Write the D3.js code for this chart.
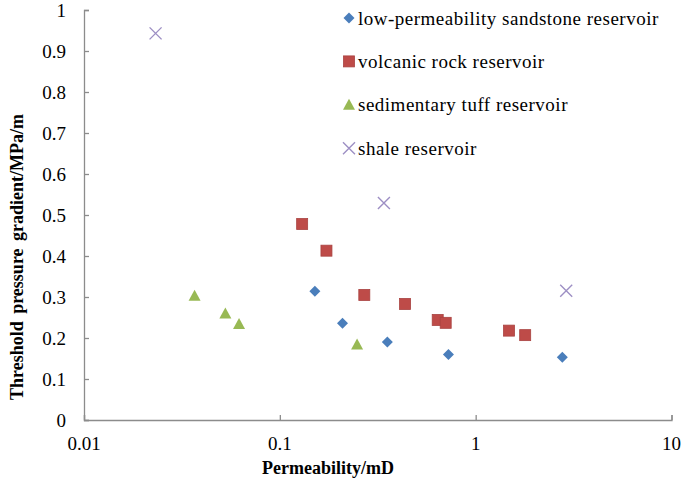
<!DOCTYPE html>
<html>
<head>
<meta charset="utf-8">
<script src="https://cdn.jsdelivr.net/npm/d3@7"></script>
<style>
  body { margin: 0; background: #fff; }
</style>
</head>
<body>
<div id="chart"></div>
<script>
var width = 685
var height = 487
var serif = "'Liberation Serif', 'Times New Roman', Times, serif"

// series: [permeability mD, threshold gradient MPa/m]
var sandstone = [[0.151, 0.314], [0.209, 0.236], [0.354, 0.190], [0.726, 0.160], [2.77, 0.153]]
var volcanic = [[0.130, 0.478], [0.173, 0.413], [0.270, 0.305], [0.436, 0.283], [0.640, 0.244], [0.703, 0.237], [1.48, 0.218], [1.79, 0.207]]
var tuff = [[0.0367, 0.303], [0.0527, 0.260], [0.0619, 0.234], [0.248, 0.184]]
var shale = [[0.0232, 0.943], [0.340, 0.529], [2.90, 0.315]]

var seriesNames = ['low-permeability sandstone reservoir', 'volcanic rock reservoir', 'sedimentary tuff reservoir', 'shale reservoir']
var xTicks = [0.01, 0.1, 1, 10]
var yTicks = [0, 0.1, 0.2, 0.3, 0.4, 0.5, 0.6, 0.7, 0.8, 0.9, 1]

var margin = { left: 84, right: 13.5, top: 10, bottom: 67 }

var series = [
  { name: seriesNames[0], data: sandstone, color: '#4a7ebb', symbol: 'diamond' },
  { name: seriesNames[1], data: volcanic, color: '#be4b48', symbol: 'square' },
  { name: seriesNames[2], data: tuff, color: '#98b954', symbol: 'triangle' },
  { name: seriesNames[3], data: shale, color: '#9d8fc4', symbol: 'cross' }
]

var xScale = d3.scaleLog()
  .domain([0.01, 10])
  .range([margin.left, width - margin.right])

var yScale = d3.scaleLinear()
  .domain([0, 1])
  .range([height - margin.bottom, margin.top])

var svg = d3.select('#chart')
  .append('svg')
  .attr('width', width)
  .attr('height', height)
  .style('font-family', serif)

// axes, ticks pointing inward
var xAxis = d3.axisTop(xScale)
  .tickValues(xTicks)
  .tickSize(5)
  .tickFormat('')

var yAxis = d3.axisRight(yScale)
  .tickValues(yTicks)
  .tickSize(5)
  .tickFormat('')

svg.append('g')
  .attr('transform', `translate(0,${height - margin.bottom})`)
  .call(xAxis)
  .call(g => g.selectAll('path, line').attr('stroke', '#8c8c8c').attr('stroke-width', 1.3))

svg.append('g')
  .attr('transform', `translate(${margin.left},0)`)
  .call(yAxis)
  .call(g => g.selectAll('path, line').attr('stroke', '#8c8c8c').attr('stroke-width', 1.3))

// tick labels
svg.append('g')
  .selectAll('text')
  .data(xTicks)
  .join('text')
  .attr('x', d => xScale(d))
  .attr('y', height - margin.bottom + 30)
  .attr('text-anchor', 'middle')
  .style('font-family', serif)
  .style('font-size', '19px')
  .text(d => d)

svg.append('g')
  .selectAll('text')
  .data(yTicks)
  .join('text')
  .attr('x', margin.left - 18)
  .attr('y', d => yScale(d) + 6.5)
  .attr('text-anchor', 'end')
  .style('font-family', serif)
  .style('font-size', '19px')
  .text(d => d)

// axis titles
svg.append('text')
  .attr('x', 328)
  .attr('y', 474)
  .attr('text-anchor', 'middle')
  .style('font-family', serif)
  .style('font-size', '18px')
  .style('font-weight', 'bold')
  .text('Permeability/mD')

svg.append('text')
  .attr('transform', 'translate(23,257) rotate(-90)')
  .attr('text-anchor', 'middle')
  .style('font-family', serif)
  .style('font-size', '18px')
  .style('font-weight', 'bold')
  .style('word-spacing', '3px')
  .text('Threshold pressure gradient/MPa/m')

function drawMarker(sel, s) {
  if (s.symbol === 'cross') {
    sel.append('path')
      .attr('d', 'M-6,-6L6,6M-6,6L6,-6')
      .attr('stroke', s.color)
      .attr('stroke-width', 1.4)
      .attr('fill', 'none')
  } else if (s.symbol === 'diamond') {
    sel.append('path')
      .attr('d', 'M0,-5.5L5.5,0L0,5.5L-5.5,0Z')
      .attr('fill', s.color)
  } else if (s.symbol === 'square') {
    sel.append('rect')
      .attr('x', -5.5).attr('y', -5.5)
      .attr('width', 11).attr('height', 11)
      .attr('fill', s.color)
      .attr('stroke', '#a94341')
      .attr('stroke-width', 0.8)
  } else {
    sel.append('path')
      .attr('d', 'M0,-6L6,5L-6,5Z')
      .attr('fill', s.color)
  }
}

// points
series.forEach(function(s) {
  svg.append('g')
    .selectAll('g')
    .data(s.data)
    .join('g')
    .attr('transform', d => `translate(${xScale(d[0])},${yScale(d[1])})`)
    .each(function() { drawMarker(d3.select(this), s) })
})

// legend
var legend = svg.append('g')
  .attr('transform', 'translate(349,18)')

series.forEach(function(s, i) {
  var row = legend.append('g')
    .attr('transform', `translate(0,${i * 43.4})`)
  drawMarker(row, s)
  row.append('text')
    .attr('x', 9)
    .attr('y', 6.5)
    .style('font-family', serif)
    .style('font-size', '19px')
    .style('letter-spacing', '0.5px')
    .text(s.name)
})
</script>
</body>
</html>
